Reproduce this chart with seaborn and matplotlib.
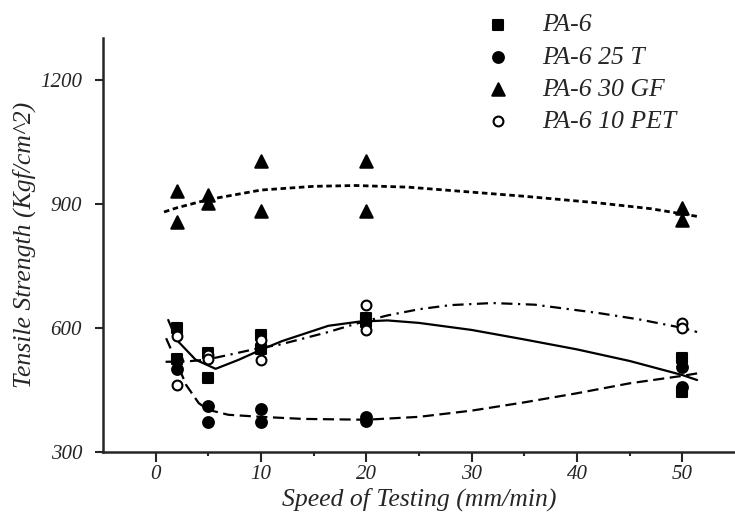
import matplotlib
matplotlib.use("Agg")
import matplotlib.pyplot as plt
import seaborn as sns
import pandas as pd

speeds = [2, 2, 5, 5, 10, 10, 20, 20, 50, 50]
pa6 = [600, 525, 540, 480, 583, 550, 625, 615, 527, 445]
pa6_25t = [522, 500, 411, 373, 404, 373, 385, 375, 506, 457]
pa6_30gf = [930, 855, 922, 902, 1004, 883, 1004, 883, 890, 861]
pa6_10pet = [581, 462, 535, 525, 571, 523, 655, 595, 612, 600]

# ---- smooth trend curves as drawn in the reference ----
pa6_fit_x = [1.2, 2, 3.8, 5.7, 7.9, 10, 12, 16.4, 19.3, 22, 25, 30, 35, 40, 45, 50, 51.4]
pa6_fit_y = [619, 571, 523, 501, 523, 547, 568, 605, 615, 618, 612, 595, 572, 548, 520, 486, 474]
t25_fit_x = [1.0, 1.9, 2.9, 4.1, 5, 6.9, 10, 14, 20, 25, 30, 35, 40, 45, 50, 51.4]
t25_fit_y = [575, 523, 462, 418, 402, 390, 385, 380, 378, 385, 400, 420, 442, 466, 484, 490]
gf_fit_x = [0.8, 2, 5, 10, 15, 19, 24, 28, 35, 42, 47, 51.5]
gf_fit_y = [880, 890, 910, 933, 942, 944, 940, 932, 918, 902, 888, 869]
pet_fit_x = [0.95, 3, 4.8, 7, 10, 11.7, 16.4, 19.3, 22, 25, 28, 32, 36, 42, 46, 50, 51.4]
pet_fit_y = [518, 519, 523, 535, 552, 559, 590, 612, 630, 645, 655, 660, 656, 636, 620, 600, 590]

labels = ["PA-6", "PA-6 25 T", "PA-6 30 GF", "PA-6 10 PET"]
x_ticks = [0, 10, 20, 30, 40, 50]
x_minor = [5, 15, 25, 35, 45]
y_ticks = [300, 600, 900, 1200]

sns.set_style("ticks")
plt.rcParams["font.family"] = ["Liberation Serif", "DejaVu Serif"]
plt.rcParams["font.style"] = "italic"

fig = plt.figure(figsize=(7.35, 5.16), dpi=100)
ax = fig.add_axes([0.140, 0.124, 0.860, 0.802])

series = [pa6, pa6_25t, pa6_30gf, pa6_10pet]
fits = [(pa6_fit_x, pa6_fit_y), (t25_fit_x, t25_fit_y),
        (gf_fit_x, gf_fit_y), (pet_fit_x, pet_fit_y)]
markers = ["s", "o", "^", "o"]
faces = ["black", "black", "black", "white"]
sizes = [55, 60, 80, 50]
lstyles = ["-", (0, (5, 2.5)), (0, (2, 1.3)), (0, (5, 2.5, 1, 2.5))]
lwidths = [1.6, 1.6, 2.0, 1.6]

for vals, (fx, fy), lab, mk, fc, sz, ls, lw in zip(series, fits, labels, markers,
                                                   faces, sizes, lstyles, lwidths):
    cdf = pd.DataFrame({"speed": fx, "strength": fy})
    sns.lineplot(data=cdf, x="speed", y="strength", estimator=None, sort=False,
                 color="black", lw=lw, linestyle=ls, ax=ax, legend=False)
    df = pd.DataFrame({"speed": speeds, "strength": vals})
    sns.scatterplot(data=df, x="speed", y="strength", marker=mk, s=sz,
                    facecolor=fc, edgecolor="black", linewidth=1.5,
                    label=lab, ax=ax, zorder=5)

ax.set_xlim(-5, 55)
ax.set_ylim(300, 1300)
ax.set_xticks(x_ticks)
ax.set_xticks(x_minor, minor=True)
ax.set_yticks(y_ticks)
ax.tick_params(axis="both", which="major", direction="out", width=1.5,
               labelsize=15)
ax.tick_params(axis="x", which="major", length=7, pad=2)
ax.tick_params(axis="y", which="major", length=6, pad=9)
ax.tick_params(axis="x", which="minor", direction="out", length=3, width=1.5)
for lbl in ax.get_xticklabels() + ax.get_yticklabels():
    lbl.set_fontstyle("italic")

sns.despine(ax=ax)
ax.spines["left"].set_linewidth(1.8)
ax.spines["bottom"].set_linewidth(1.8)

ax.set_xlabel("Speed of Testing (mm/min)", fontsize=18.5, fontstyle="italic",
              labelpad=3)
ax.set_ylabel("Tensile Strength (Kgf/cm^2)", fontsize=18.5, fontstyle="italic",
              labelpad=3)

leg = ax.legend(loc="upper left", bbox_to_anchor=(0.636, 0.994),
                bbox_transform=fig.transFigure, frameon=False, fontsize=18.5,
                handlelength=1.6, handletextpad=0.9, labelspacing=0.36,
                borderpad=0.2, borderaxespad=0.2)
for t in leg.get_texts():
    t.set_fontstyle("italic")

fig.savefig("out.png", dpi=100)
